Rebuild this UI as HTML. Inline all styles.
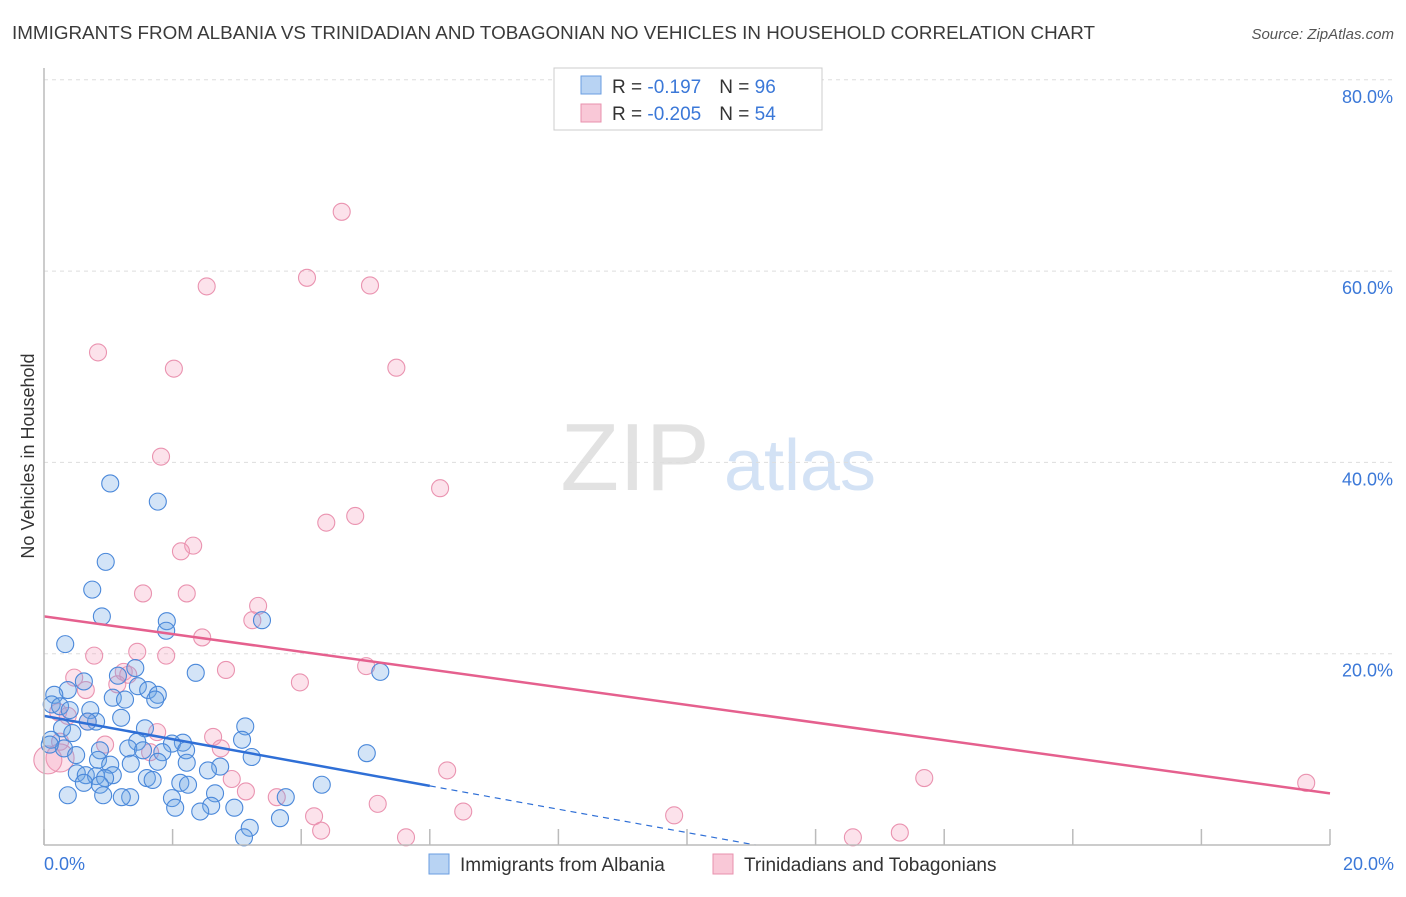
<!DOCTYPE html>
<html><head><meta charset="utf-8"><style>
body{margin:0;background:#fff;font-family:"Liberation Sans",sans-serif;}
svg text{font-family:"Liberation Sans",sans-serif;}
</style></head><body>
<svg width="1406" height="892" xmlns="http://www.w3.org/2000/svg" id="chart">
<text x="12" y="39" font-size="18" fill="#3a3a3a" textLength="1083" lengthAdjust="spacingAndGlyphs">IMMIGRANTS FROM ALBANIA VS TRINIDADIAN AND TOBAGONIAN NO VEHICLES IN HOUSEHOLD CORRELATION CHART</text>
<text x="1394" y="39" font-size="15" fill="#555" font-style="italic" text-anchor="end">Source: ZipAtlas.com</text>
<text x="0" y="0" transform="translate(34,456) rotate(-90)" font-size="18" fill="#333" text-anchor="middle">No Vehicles in Household</text>
<text x="635" y="490" font-size="96" fill="#e2e2e2" font-family="Liberation Serif" text-anchor="middle">ZIP</text>
<text x="800" y="490" font-size="72" fill="#d3e2f5" text-anchor="middle">atlas</text>
<g id="grid"></g>
<g id="ticks"></g>
<g id="pts"></g>
<g id="lines"></g>
<line x1="44" y1="68" x2="44" y2="845" stroke="#bbb" stroke-width="1.5"/>
<line x1="44" y1="845" x2="1330" y2="845" stroke="#bbb" stroke-width="1.5"/>
<text x="44" y="870" font-size="18" fill="#3b78d8">0.0%</text>
<text x="1394" y="870" font-size="18" fill="#3b78d8" text-anchor="end">20.0%</text>
<g>
<rect x="554" y="68" width="268" height="62" fill="#fff" stroke="#ccc"/>
<rect x="581" y="76" width="20" height="18" fill="#b8d3f3" stroke="#6a9ee0"/>
<rect x="581" y="104" width="20" height="18" fill="#f9c8d7" stroke="#e891ae"/>
<text x="612" y="93" font-size="19" fill="#333">R = <tspan fill="#3b78d8"> -0.197</tspan><tspan dx="18" fill="#333">N = </tspan><tspan fill="#3b78d8">96</tspan></text>
<text x="612" y="120" font-size="19" fill="#333">R = <tspan fill="#3b78d8">-0.205</tspan><tspan dx="18" fill="#333">N = </tspan><tspan fill="#3b78d8">54</tspan></text>
</g>
<g>
<rect x="429" y="854" width="20" height="20" fill="#b8d3f3" stroke="#6a9ee0"/>
<text x="460" y="871" font-size="19" fill="#333">Immigrants from Albania</text>
<rect x="713" y="854" width="20" height="20" fill="#f9c8d7" stroke="#e891ae"/>
<text x="744" y="871" font-size="19" fill="#333">Trinidadians and Tobagonians</text>
</g>
</svg>
<script>
const blueX=[1.03,1.77,0.96,0.75,0.90,1.91,3.39,1.90,0.33,2.36,5.23,1.42,1.15,0.62,1.46,1.62,0.37,1.77,0.16,1.07,1.26,1.73,0.12,0.25,0.72,0.40,1.20,0.81,0.68,3.13,1.57,0.28,0.44,0.11,3.08,1.45,2.16,1.99,1.31,2.21,0.31,0.87,1.54,1.84,5.02,3.23,0.50,0.84,2.22,1.03,1.35,1.77,2.74,2.55,0.51,0.65,0.81,1.07,0.95,1.60,1.69,2.12,2.24,0.62,4.32,0.87,0.37,0.92,1.34,1.21,1.99,2.66,3.76,2.60,2.96,2.04,2.43,3.67,3.20,3.11,0.09];
const blueY=[37.8,35.9,29.6,26.7,23.9,23.4,23.5,22.4,21.0,18.0,18.1,18.5,17.7,17.1,16.6,16.2,16.2,15.7,15.7,15.4,15.2,15.2,14.7,14.5,14.1,14.1,13.3,12.9,12.9,12.4,12.2,12.2,11.7,11.0,11.0,10.8,10.7,10.6,10.1,9.9,10.1,9.9,9.9,9.7,9.6,9.2,9.4,8.9,8.6,8.4,8.5,8.7,8.2,7.8,7.5,7.3,7.2,7.3,7.0,7.0,6.8,6.5,6.3,6.5,6.3,6.3,5.2,5.2,5.0,5.0,4.9,5.4,5.0,4.1,3.9,3.9,3.5,2.8,1.8,0.8,10.5];
const pinkX=[4.63,4.09,5.07,2.53,0.84,2.02,5.48,1.82,6.16,4.84,4.39,2.32,2.13,1.54,2.22,3.33,3.24,2.46,1.45,1.90,0.78,5.01,2.83,1.24,0.47,1.31,3.98,0.65,1.14,0.22,0.37,0.68,1.76,2.63,0.25,0.95,2.75,1.65,0.25,0.06,6.27,13.69,19.63,2.92,3.14,3.62,5.19,6.52,4.20,9.80,4.31,5.63,12.58,13.31];
const pinkY=[66.2,59.3,58.5,58.4,51.5,49.8,49.9,40.6,37.3,34.4,33.7,31.3,30.7,26.3,26.3,25.0,23.5,21.7,20.2,19.8,19.8,18.7,18.3,18.1,17.5,17.8,17.0,16.2,16.8,13.9,13.5,12.9,11.8,11.3,10.8,10.5,10.1,9.7,9.1,8.9,7.8,7.0,6.5,6.9,5.6,5.0,4.3,3.5,3.0,3.1,1.5,0.8,0.8,1.3];
const yTicks=[20,40,60,80];
const yTickLabels=["20.0%","40.0%","60.0%","80.0%"];
const xTicks=[0,2,4,6,8,10,12,14,16,18,20];
const blueLine=[13.5,-1.22];
const pinkLine=[23.9,-0.925];
const X=v=>44+v/20*1286;
const Y=v=>845-v*9.565;
const NS="http://www.w3.org/2000/svg";
function mk(t,a,p){const e=document.createElementNS(NS,t);for(const k in a)e.setAttribute(k,a[k]);p.appendChild(e);return e;}
const grid=document.getElementById('grid'),ticks=document.getElementById('ticks'),pts=document.getElementById('pts'),lines=document.getElementById('lines');
yTicks.forEach((t,i)=>{
const l=mk('line',{x1:44,x2:1394,y1:Y(t),y2:Y(t),stroke:'#ddd','stroke-dasharray':'4,4'},grid);


const tx=mk('text',{x:1393,y:Y(t)+23,'font-size':18,fill:'#3b78d8','text-anchor':'end'},grid);
tx.textContent=yTickLabels[i];


});
xTicks.forEach(t=>{
const l=mk('line',{x1:X(t),x2:X(t),y1:829,y2:845,stroke:'#bbb','stroke-width':1.5},ticks);


});
pinkX.forEach((x,i)=>{
const big=(x<0.3&&pinkY[i]<9.5);
const c=mk('circle',{cx:X(x),cy:Y(pinkY[i]),r:big?14:8.5,fill:'rgba(244,160,188,0.3)',stroke:'#ea93b0','stroke-width':1.1},pts);


});
blueX.forEach((x,i)=>{
const c=mk('circle',{cx:X(x),cy:Y(blueY[i]),r:8.5,fill:'rgba(110,165,230,0.3)',stroke:'#4a88da','stroke-width':1.1},pts);


});
const bs=mk('line',{x1:X(0),y1:Y(blueLine[0]),x2:X(6),y2:Y(blueLine[0]+blueLine[1]*6),stroke:'#2f6fd6','stroke-width':2.5},lines);


const xe=-blueLine[0]/blueLine[1];
const bd=mk('line',{x1:X(6),y1:Y(blueLine[0]+blueLine[1]*6),x2:X(xe),y2:Y(0),stroke:'#2f6fd6','stroke-width':1.2,'stroke-dasharray':'6,5'},lines);


const pl=mk('line',{x1:X(0),y1:Y(pinkLine[0]),x2:X(20),y2:Y(pinkLine[0]+pinkLine[1]*20),stroke:'#e5608e','stroke-width':2.5},lines);


</script>
</body></html>
